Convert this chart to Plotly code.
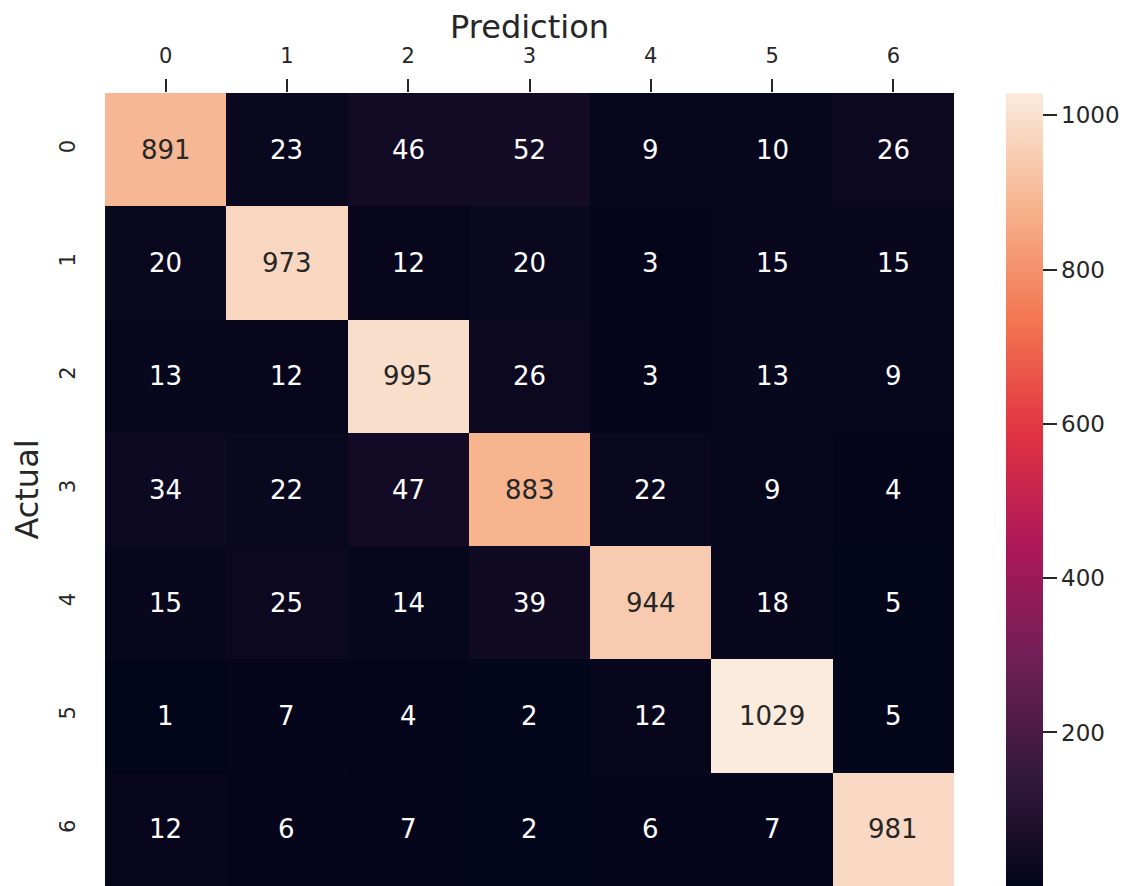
# confusion matrix heatmap (seaborn rocket look)
import plotly.graph_objects as go

labels = [0, 1, 2, 3, 4, 5, 6]
cm = [
    [891, 23, 46, 52, 9, 10, 26],
    [20, 973, 12, 20, 3, 15, 15],
    [13, 12, 995, 26, 3, 13, 9],
    [34, 22, 47, 883, 22, 9, 4],
    [15, 25, 14, 39, 944, 18, 5],
    [1, 7, 4, 2, 12, 1029, 5],
    [12, 6, 7, 2, 6, 7, 981],
]
cbar_ticks = [200, 400, 600, 800, 1000]

rocket = [
    [0.0, '#03051a'],
    [1/7, '#35193e'],
    [2/7, '#701f57'],
    [3/7, '#ad1759'],
    [4/7, '#e13342'],
    [5/7, '#f37651'],
    [6/7, '#f6b48f'],
    [1.0, '#faebdd'],
]

FONT = 'DejaVu Sans'
INK = '#262626'

vmin = min(min(r) for r in cm)
vmax = max(max(r) for r in cm)

fig = go.Figure(go.Heatmap(
    z=cm, x=labels, y=labels,
    colorscale=rocket, zmin=vmin, zmax=vmax,
    colorbar=dict(
        thickness=37, len=1, lenmode='fraction', y=0.5, yanchor='middle',
        x=1.061, xanchor='left', xpad=0, ypad=0,
        outlinewidth=0,
        tickvals=cbar_ticks, ticks='outside', ticklen=14, tickwidth=1.5,
        tickcolor=INK,
        tickfont=dict(family=FONT, size=23, color=INK),
    ),
    hoverinfo='z',
))

for i, row in enumerate(cm):
    for j, v in enumerate(row):
        frac = (v - vmin) / (vmax - vmin)
        fig.add_annotation(
            x=labels[j], y=labels[i], text=str(v), showarrow=False,
            font=dict(family=FONT, size=26,
                      color=INK if frac > 0.5 else '#ffffff'),
        )

fig.update_xaxes(
    side='top', tickvals=labels, ticks='outside', ticklen=13, tickwidth=1.5,
    tickcolor=INK, showgrid=False, zeroline=False, ticklabelstandoff=8,
    tickfont=dict(family=FONT, size=21, color=INK),
    title=dict(text='Prediction', standoff=4,
               font=dict(family=FONT, size=32, color=INK)),
)
fig.update_yaxes(
    autorange='reversed', tickvals=labels, tickangle=-90,
    ticks='outside', ticklen=13, tickcolor='rgba(0,0,0,0)',
    showgrid=False, zeroline=False, ticklabelstandoff=8,
    tickfont=dict(family=FONT, size=21, color=INK),
    title=dict(text='Actual', standoff=12,
               font=dict(family=FONT, size=32, color=INK)),
)
fig.update_layout(
    width=1129, height=878,
    margin=dict(l=97, r=183, t=85, b=0),
    plot_bgcolor='white', paper_bgcolor='white',
)
fig.write_html('out.html')
